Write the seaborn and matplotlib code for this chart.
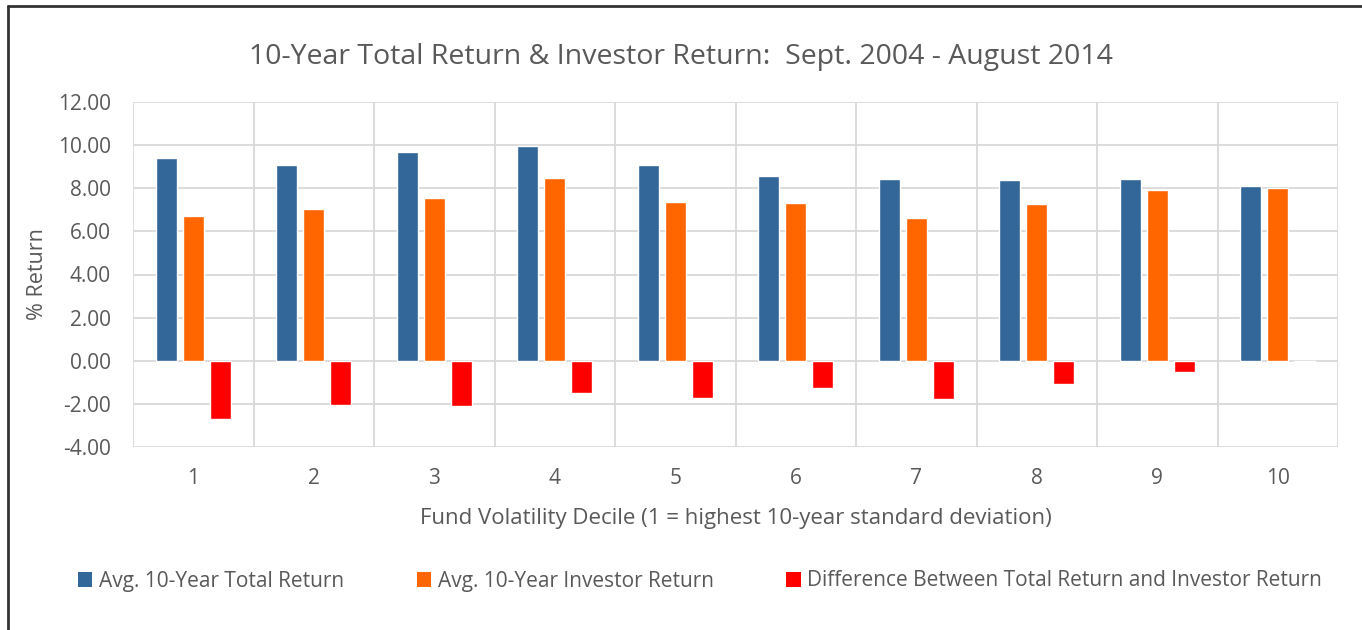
import numpy as np
import pandas as pd
import matplotlib
matplotlib.use("Agg")
import matplotlib.pyplot as plt
from matplotlib.lines import Line2D
from matplotlib.patches import Patch
import seaborn as sns

# data
deciles = ["1", "2", "3", "4", "5", "6", "7", "8", "9", "10"]
total_return = [9.42, 9.09, 9.68, 9.97, 9.08, 8.55, 8.42, 8.38, 8.42, 8.09]
investor_return = [6.71, 7.06, 7.57, 8.46, 7.35, 7.31, 6.63, 7.29, 7.91, 8.03]
difference = [-2.71, -2.03, -2.09, -1.49, -1.72, -1.25, -1.78, -1.06, -0.51, -0.05]

series_names = ["Avg. 10-Year Total Return",
                "Avg. 10-Year Investor Return",
                "Difference Between Total Return and Investor Return"]
colors = ["#336699", "#FF6600", "#FF0000"]

df = pd.DataFrame({"decile": deciles * 3,
                   "value": total_return + investor_return + difference,
                   "series": np.repeat(series_names, len(deciles))})

sns.set_theme(style="white")
plt.rcParams["font.family"] = ["Open Sans", "DejaVu Sans"]
text_col = "#595959"
grid_col = "#d9d9d9"

fig = plt.figure(figsize=(13.62, 6.30), dpi=100)
ax = fig.add_axes([133 / 1362, 1 - 447 / 630, (1338 - 133) / 1362, (447 - 102) / 630])

sns.barplot(data=df, x="decile", y="value", hue="series", palette=colors,
            width=0.67, gap=0.22, ax=ax, legend=False, saturation=1)

ax.set_ylim(-4, 12)
ax.set_xlim(-0.5, 9.5)
ax.set_yticks(np.arange(-4, 13, 2))
ax.set_yticklabels([f"{v:.2f}" for v in np.arange(-4, 13, 2)])
ax.set_xticks(np.arange(-0.5, 10, 1), minor=True)
ax.grid(axis="y", which="major", color=grid_col, linewidth=1.3)
ax.grid(axis="x", which="minor", color=grid_col, linewidth=1.3)
ax.set_axisbelow(True)
for s in ax.spines.values():
    s.set_visible(False)
ax.tick_params(axis="both", which="both", length=0, labelsize=15, colors=text_col)
ax.tick_params(axis="x", pad=15)
ax.tick_params(axis="y", pad=16)

ax.set_xlabel("Fund Volatility Decile (1 = highest 10-year standard deviation)",
              fontsize=16, color=text_col, labelpad=14)
ax.set_ylabel("% Return", fontsize=15.5, color=text_col, labelpad=7)

fig.text(0.5, 1 - 57 / 630, "10-Year Total Return & Investor Return:  Sept. 2004 - August 2014",
         ha="center", va="center", fontsize=20.5, color=text_col)

handles = [Patch(facecolor=c, edgecolor="none") for c in colors]
fig.legend(handles, series_names, loc="center", bbox_to_anchor=(700 / 1362, 1 - 581 / 630),
           ncol=3, frameon=False, fontsize=15, labelcolor=text_col,
           handlelength=0.7, handleheight=0.7, handletextpad=0.3, columnspacing=3.5)

# outer frame (left and top edges visible)
fig.add_artist(Line2D([7.5 / 1362, 7.5 / 1362], [0, 1 - 6 / 630], transform=fig.transFigure,
                      color="#333333", linewidth=2))
fig.add_artist(Line2D([7.5 / 1362, 1], [1 - 6 / 630, 1 - 6 / 630], transform=fig.transFigure,
                      color="#333333", linewidth=2))

fig.savefig("out.png", dpi=100, facecolor="white")
